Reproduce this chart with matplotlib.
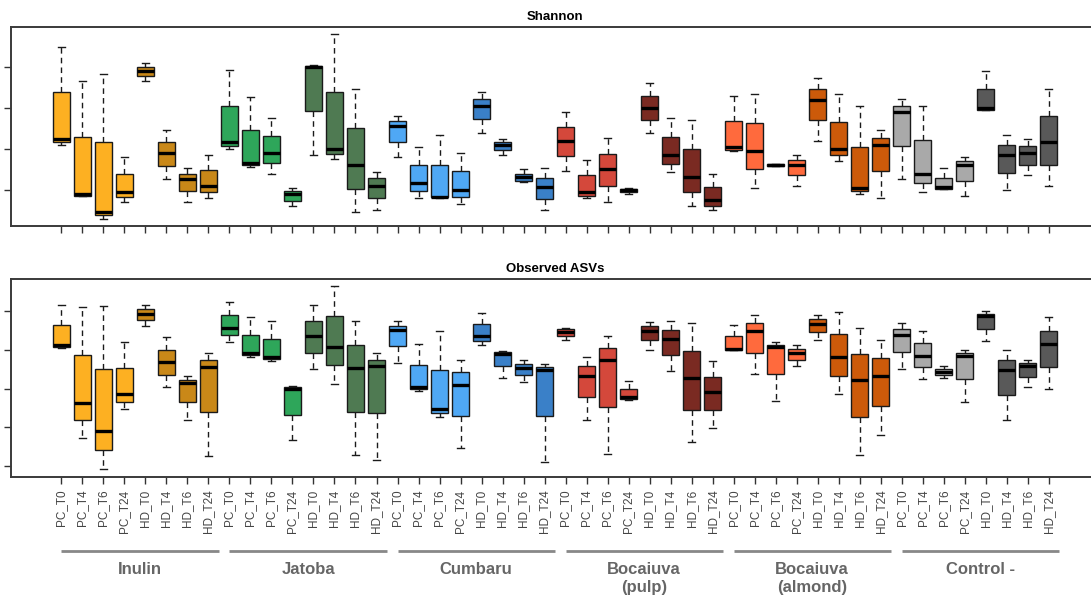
import matplotlib
matplotlib.use("Agg")
import matplotlib.pyplot as plt
from matplotlib import transforms

plt.rcParams["font.family"] = ["Liberation Sans", "DejaVu Sans"]

# sample layout: 6 substrates x 8 conditions
groups = ["Inulin", "Jatoba", "Cumbaru", "Bocaiuva\n(pulp)", "Bocaiuva\n(almond)", "Control -"]
timepoints = ["PC_T0", "PC_T4", "PC_T6", "PC_T24", "HD_T0", "HD_T4", "HD_T6", "HD_T24"]

pc_colors = ["#FDB022", "#2EA65A", "#4FA8F5", "#D4483B", "#FF6A3D", "#A9A9A9"]
hd_colors = ["#C98818", "#4F7A52", "#3A80C8", "#7A2A22", "#CC5A0A", "#595959"]

# Shannon index: lower whisker, Q1, median, Q3, upper whisker
shannon_lo = [2.55, 1.93, 1.65, 1.85, 3.33, 2.13, 1.85, 1.90,
              2.50, 2.28, 2.20, 1.80, 2.43, 2.38, 1.73, 1.76,
              2.40, 1.90, 1.90, 1.83, 2.70, 2.43, 2.10, 1.76,
              2.23, 1.90, 1.85, 1.95, 2.70, 2.22, 1.80, 1.75,
              2.47, 2.02, 2.29, 2.05, 2.60, 2.35, 1.95, 1.90,
              2.13, 1.98, 2.01, 1.93, 2.98, 2.00, 2.18, 2.05]
shannon_q1 = [2.59, 1.93, 1.69, 1.91, 3.39, 2.29, 1.99, 1.98,
              2.54, 2.30, 2.33, 1.87, 2.96, 2.44, 2.01, 1.90,
              2.59, 1.99, 1.91, 1.91, 2.87, 2.49, 2.11, 1.89,
              2.41, 1.93, 2.05, 1.98, 2.85, 2.32, 1.98, 1.81,
              2.49, 2.25, 2.29, 2.18, 2.85, 2.43, 1.99, 2.23,
              2.54, 2.09, 2.01, 2.11, 2.98, 2.21, 2.31, 2.31]
shannon_med = [2.62, 1.95, 1.73, 1.98, 3.45, 2.45, 2.13, 2.05,
               2.58, 2.33, 2.45, 1.95, 3.50, 2.50, 2.31, 2.05,
               2.78, 2.08, 1.92, 2.00, 3.02, 2.55, 2.16, 2.03,
               2.60, 1.97, 2.25, 2.00, 3.00, 2.43, 2.16, 1.88,
               2.53, 2.47, 2.31, 2.30, 3.10, 2.50, 2.02, 2.55,
               2.95, 2.20, 2.03, 2.30, 3.00, 2.43, 2.45, 2.58]
shannon_q3 = [3.19, 2.65, 2.58, 2.19, 3.50, 2.59, 2.20, 2.24,
              3.03, 2.73, 2.66, 1.99, 3.51, 3.20, 2.76, 2.14,
              2.84, 2.30, 2.30, 2.23, 3.11, 2.59, 2.19, 2.15,
              2.77, 2.18, 2.44, 2.01, 3.15, 2.65, 2.50, 2.04,
              2.84, 2.82, 2.32, 2.36, 3.23, 2.83, 2.53, 2.64,
              3.02, 2.61, 2.15, 2.35, 3.23, 2.55, 2.54, 2.90]
shannon_hi = [3.75, 3.33, 3.42, 2.40, 3.55, 2.73, 2.27, 2.43,
              3.47, 3.13, 2.88, 2.02, 3.52, 3.90, 3.23, 2.22,
              2.90, 2.53, 2.67, 2.45, 3.20, 2.62, 2.25, 2.27,
              2.95, 2.37, 2.63, 2.02, 3.30, 2.88, 2.85, 2.20,
              3.15, 3.17, 2.32, 2.43, 3.37, 3.17, 3.03, 2.73,
              3.11, 3.03, 2.27, 2.40, 3.45, 2.67, 2.62, 3.23]

# Observed ASVs: lower whisker, Q1, median, Q3, upper whisker
asv_lo = [406, 172, 92, 247, 461, 304, 219, 125,
          421, 382, 372, 168, 351, 312, 129, 115,
          367, 293, 228, 146, 412, 327, 316, 112,
          425, 220, 131, 271, 400, 346, 163, 199,
          400, 338, 269, 358, 425, 286, 129, 181,
          351, 326, 328, 265, 423, 218, 304, 299]
asv_q1 = [408, 219, 141, 266, 477, 336, 266, 239,
          438, 387, 377, 232, 393, 360, 241, 237,
          409, 298, 237, 229, 424, 358, 335, 230,
          437, 279, 252, 274, 425, 387, 244, 244,
          400, 393, 337, 374, 446, 333, 226, 256,
          394, 355, 336, 325, 454, 283, 331, 357]
asv_med = [413, 263, 191, 287, 494, 370, 314, 355,
           456, 392, 382, 298, 437, 408, 353, 358,
           451, 305, 248, 310, 436, 389, 354, 348,
           447, 333, 373, 279, 450, 428, 327, 291,
           403, 449, 407, 391, 467, 383, 323, 333,
           438, 384, 344, 385, 487, 349, 358, 415]
asv_q3 = [464, 387, 352, 353, 505, 401, 322, 374,
          490, 439, 429, 304, 475, 487, 413, 375,
          462, 360, 348, 342, 467, 395, 364, 356,
          454, 358, 406, 298, 461, 451, 398, 331,
          435, 470, 413, 402, 479, 440, 389, 378,
          453, 417, 351, 392, 493, 374, 366, 450]
asv_hi = [516, 511, 514, 420, 517, 433, 332, 391,
          524, 486, 475, 308, 516, 565, 474, 391,
          474, 416, 449, 374, 496, 398, 373, 363,
          457, 383, 437, 319, 472, 474, 469, 371,
          464, 490, 421, 413, 490, 497, 457, 425,
          469, 449, 358, 399, 500, 399, 375, 485]

n_per_group = len(timepoints)
positions = list(range(1, len(groups) * n_per_group + 1))
tick_labels = timepoints * len(groups)
box_colors = []
for g in range(len(groups)):
    box_colors += [pc_colors[g]] * 4 + [hd_colors[g]] * 4


def make_stats(lo, q1, med, q3, hi):
    return [{"whislo": a, "q1": b, "med": c, "q3": d, "whishi": e}
            for a, b, c, d, e in zip(lo, q1, med, q3, hi)]


def draw_panel(ax, stats, title, ylim, yticks):
    bp = ax.bxp(
        stats, positions=positions, widths=0.8, capwidths=0.36,
        patch_artist=True, showfliers=False,
        boxprops={"edgecolor": "#1a1a1a", "linewidth": 1.0},
        medianprops={"color": "black", "linewidth": 2.4, "solid_capstyle": "butt"},
        whiskerprops={"color": "#1a1a1a", "linewidth": 1.0, "linestyle": (0, (4, 3))},
        capprops={"color": "#1a1a1a", "linewidth": 1.0},
    )
    for patch, col in zip(bp["boxes"], box_colors):
        patch.set_facecolor(col)

    ax.set_xlim(-1.4, 50.4)
    ax.set_ylim(*ylim)
    ax.set_yticks(yticks)
    ax.set_yticklabels([])
    ax.set_xticks(positions)
    ax.tick_params(axis="both", direction="out", length=5, width=1, color="#333333")
    for side in ["top", "left", "bottom"]:
        ax.spines[side].set_color("#3a3a3a")
        ax.spines[side].set_linewidth(1.4)
    ax.spines["right"].set_visible(False)
    ax.set_title(title, fontsize=9.5, fontweight="bold", pad=5)


fig = plt.figure(figsize=(10.91, 6.02), dpi=100)
ax_top = fig.add_axes([0.0101, 0.6246, 0.9973, 0.3306])
ax_bot = fig.add_axes([0.0101, 0.2076, 0.9973, 0.3289])

draw_panel(ax_top, make_stats(shannon_lo, shannon_q1, shannon_med, shannon_q3, shannon_hi),
           "Shannon", (1.56, 3.99), [2.0, 2.5, 3.0, 3.5])
ax_top.set_xticklabels([])

draw_panel(ax_bot, make_stats(asv_lo, asv_q1, asv_med, asv_q3, asv_hi),
           "Observed ASVs", (72, 583), [100, 200, 300, 400, 500])
ax_bot.set_xticklabels(tick_labels, rotation=90, fontsize=8.5, color="#444444")
ax_bot.tick_params(axis="x", pad=4)

# group brackets and names under the tick labels
trans = transforms.blended_transform_factory(ax_bot.transData, ax_bot.transAxes)
for g, name in enumerate(groups):
    first = positions[g * n_per_group]
    last = positions[(g + 1) * n_per_group - 1]
    ax_bot.plot([first, last + 0.48], [-0.374, -0.374], transform=trans,
                color="#888888", linewidth=2, clip_on=False, solid_capstyle="butt")
    ax_bot.text((first + last + 0.48) / 2, -0.43, name, transform=trans,
                ha="center", va="top", fontsize=12, fontweight="bold",
                color="#666666", linespacing=1.25)

fig.savefig("out.png", dpi=100)
